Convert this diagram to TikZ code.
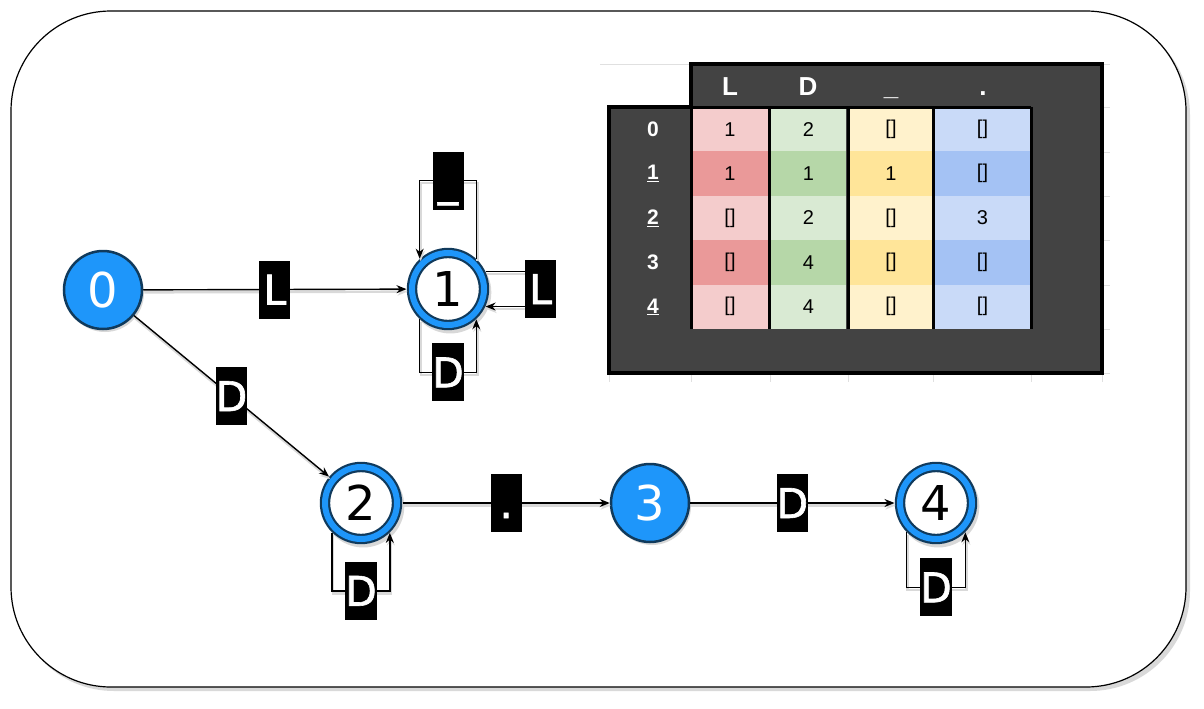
\documentclass[tikz,border=0pt]{standalone}
\usepackage{fontspec}
\setmainfont{DejaVu Sans}
\newfontfamily\sheetfont{Liberation Sans}
\newfontfamily\lblfont[FakeBold=1.5]{DejaVu Sans}
\usetikzlibrary{arrows.meta,shadows}
\definecolor{nodeblue}{RGB}{30,150,250}
\definecolor{navy}{RGB}{16,58,92}
\definecolor{sheetgray}{RGB}{67,67,67}
\definecolor{redA}{RGB}{244,204,204}
\definecolor{redB}{RGB}{234,153,153}
\definecolor{greenA}{RGB}{217,234,211}
\definecolor{greenB}{RGB}{182,215,168}
\definecolor{yellowA}{RGB}{255,242,204}
\definecolor{yellowB}{RGB}{255,229,153}
\definecolor{blueA}{RGB}{201,218,248}
\definecolor{blueB}{RGB}{164,194,244}
\newcommand\emp{[]}

\begin{document}
\begin{tikzpicture}[x=1pt,y=-1pt,
  state/.style={circle,draw=navy,line width=2.5pt,fill=nodeblue,text=white,minimum size=78pt,inner sep=0pt,
    font=\fontsize{48}{48}\selectfont,drop shadow={shadow xshift=2pt,shadow yshift=-3pt,fill=black!30}},
  final/.style={circle,draw=navy,line width=2.2pt,double=nodeblue,double distance=6pt,fill=white,minimum size=72pt,
    inner sep=0pt,outer sep=5.5pt,font=\fontsize{48}{48}\selectfont,
    drop shadow={shadow xshift=2pt,shadow yshift=-3pt,shadow scale=1.14,fill=black!30}},
  lbl/.style={fill=black,text=white,font=\lblfont\fontsize{41}{41}\selectfont,minimum width=31pt,minimum height=58pt,
    inner sep=0pt,text height=30pt,text depth=0pt},
  trans/.style={->,>={Stealth[length=10pt,width=8pt]},line width=1.4pt,
    preaction={draw=black!15,line width=2.4pt,transform canvas={xshift=1pt,yshift=-2.5pt}}},
  cell/.style={font=\sheetfont\fontsize{20}{20}\selectfont,text=black},
  rowhead/.style={font=\sheetfont\bfseries\fontsize{21}{21}\selectfont,text=white},
  colhead/.style={font=\sheetfont\bfseries\fontsize{26}{26}\selectfont,text=white,anchor=base}
]
\useasboundingbox (0,0) rectangle (1204,709);
\fill[black!15,rounded corners=100pt] (14,15) rectangle (1190,691);
\draw[fill=white,line width=1.2pt,rounded corners=100pt] (11,11) rectangle (1186,687);

\draw[black!12] (600,64) -- (691,64);
\foreach \y in {64,107,152,196,240,285,329,373} \draw[black!12] (1102,\y) -- (1110,\y);
\foreach \x in {609,691,770,848,933,1031,1102} \draw[black!12] (\x,373) -- (\x,382);
\draw[fill=sheetgray,line width=4pt] (691,64) -- (1102,64) -- (1102,373) -- (609,373) -- (609,107) -- (691,107) -- cycle;

\foreach \x/\t [count=\i] in {730/L,808/D,891/\_,983/.}
  \node[colhead] (ch\i) at (\x,95) {\t};

\foreach \r/\lab/\va/\vb/\vc/\vd in {0/0/1/2/\emp/\emp,1/\underline{1}/1/1/1/\emp,2/\underline{2}/\emp/2/\emp/3,
    3/3/\emp/4/\emp/\emp,4/\underline{4}/\emp/4/\emp/\emp}{
  \pgfmathsetmacro\ytop{107+44.4*\r}
  \pgfmathsetmacro\ymid{\ytop+22.2}
  \ifodd\r
    \colorlet{cL}{redB}\colorlet{cD}{greenB}\colorlet{cU}{yellowB}\colorlet{cP}{blueB}
  \else
    \colorlet{cL}{redA}\colorlet{cD}{greenA}\colorlet{cU}{yellowA}\colorlet{cP}{blueA}
  \fi
  \fill[cL] (692,\ytop) rectangle (768,\ytop+44.4);
  \fill[cD] (771,\ytop) rectangle (846,\ytop+44.4);
  \fill[cU] (850,\ytop) rectangle (932,\ytop+44.4);
  \fill[cP] (935,\ytop) rectangle (1030,\ytop+44.4);
  \node[rowhead] (rh\r) at (653,\ymid) {\lab};
  \node[cell] (cL\r) at (730,\ymid) {\va};
  \node[cell] (cD\r) at (808.5,\ymid) {\vb};
  \node[cell] (cU\r) at (891,\ymid) {\vc};
  \node[cell] (cP\r) at (982.5,\ymid) {\vd};
}
\foreach \x in {691,769.5,848,933.5,1031} \draw[line width=3pt] (\x,107) -- (\x,329);
\draw[line width=3pt] (691,107) -- (1031,107);

\node[state] (s0) at (103,290) {0};
\node[final] (s1) at (448,289) {1};
\node[final] (s2) at (361,503) {2};
\node[state] (s3) at (650,503) {3};
\node[final] (s4) at (936,503) {4};

\draw[trans] (s0) -- node[lbl] (l01) {L} (s1);
\draw[trans] (s0) -- node[lbl] (l02) {D} (s2);
\draw[trans] (s2) -- node[lbl] (l23) {.} (s3);
\draw[trans] (s3) -- node[lbl] (l34) {D} (s4);
\draw[trans] (s1.47) -- ++(0,-78) -| node[lbl,pos=0.25] (l11u) {\_} (s1.133);
\draw[trans] (s1.25) -- ++(55,0) |- node[lbl,pos=0.25] (l11r) {L} (s1.-25);
\draw[trans] (s1.-133) -- ++(0,53) -| node[lbl,pos=0.25] (l11d) {D} (s1.-47);
\draw[trans] (s2.-134) -- ++(0,58) -| node[lbl,pos=0.25] (l22) {D} (s2.-46);
\draw[trans] (s4.-135) -- ++(0,55) -| node[lbl,pos=0.25] (l44) {D} (s4.-45);
\end{tikzpicture}
\end{document}
